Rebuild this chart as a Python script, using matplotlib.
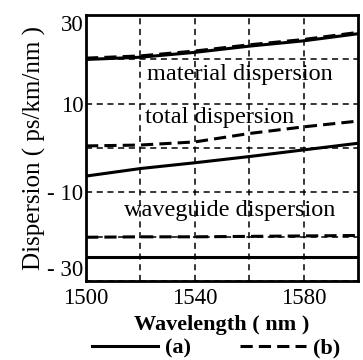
import numpy as np
import matplotlib
matplotlib.use("Agg")
import matplotlib.pyplot as plt
from matplotlib.lines import Line2D

plt.rcParams['font.family'] = ['Liberation Serif', 'DejaVu Serif']
plt.rcParams['axes.unicode_minus'] = False

# wavelength (nm)
wl = [1500, 1520, 1540, 1560, 1580, 1600]

# dispersion curves (ps/km/nm), fiber (a) solid, fiber (b) dashed
mat_a = [20.0, 20.5, 21.6, 23.0, 24.2, 25.8]
mat_b = [20.3, 20.8, 21.9, 23.3, 24.5, 26.1]
tot_a = [-6.3, -4.6, -3.3, -1.9, -0.4, 1.1]
tot_b = [0.5, 0.7, 1.4, 3.3, 4.8, 6.1]
wg_a = [-24.5, -24.5, -24.5, -24.5, -24.5, -24.5]
wg_b = [-20.1, -20.0, -20.0, -19.9, -19.8, -19.7]

xticks = [1500, 1540, 1580]
xminor = [1520, 1560]
yticks = [-30, -10, 10, 30]
ytick_labels = ['- 30', '- 10', '10', '30']
yminor = [-20, 0, 20]

fig = plt.figure(figsize=(3.63, 3.60), dpi=100)
ax = fig.add_axes([0.237, 0.219, 0.749, 0.739])

solid = dict(color='black', lw=2.2, ls='-')
dashed = dict(color='black', lw=2.2, ls=(0, (4, 2)))

ax.plot(wl, mat_a, **solid)
ax.plot(wl, mat_b, **dashed)
ax.plot(wl, tot_a, **solid)
ax.plot(wl, tot_b, **dashed)
ax.plot(wl, wg_a, **solid)
ax.plot(wl, wg_b, **dashed)

ax.set_xlim(1500, 1600)
ax.set_ylim(-30, 30)
ax.set_xticks(xticks)
ax.set_xticks(xminor, minor=True)
ax.set_yticks(yticks)
ax.set_yticklabels(ytick_labels)
ax.set_yticks(yminor, minor=True)
ax.grid(True, which='both', color='black', lw=1.1, ls=(0, (4, 3)))
ax.tick_params(which='both', direction='in', length=0, labelsize=16.5)
ax.tick_params(axis='x', pad=5)
ax.tick_params(axis='y', pad=2)

# corner labels sit inside the axis span, as in the original
ylabs = ax.get_yticklabels()
ylabs[0].set_va('bottom')
ylabs[-1].set_va('top')

for s in ax.spines.values():
    s.set_linewidth(2)

ax.text(1556.5, 16.5, 'material dispersion', ha='center', va='center', fontsize=17.5)
ax.text(1549, 6.8, 'total dispersion', ha='center', va='center', fontsize=17.5)
ax.text(1553, -14, 'waveguide dispersion', ha='center', va='center', fontsize=17.5)

ax.set_xlabel('Wavelength ( nm )', fontsize=16, fontweight='bold', labelpad=4)
ax.set_ylabel('Dispersion ( ps/km/nm )', fontsize=18, labelpad=1)

handles = [Line2D([], [], **solid), Line2D([], [], **dashed)]
fig.legend(handles, ['(a)', '(b)'], loc='center', bbox_to_anchor=(0.595, 0.033),
           ncol=2, frameon=False, prop={'size': 16, 'weight': 'bold'},
           handlelength=3.0, columnspacing=2.2, handletextpad=0.3, borderpad=0)

fig.savefig('out.png', dpi=100)
